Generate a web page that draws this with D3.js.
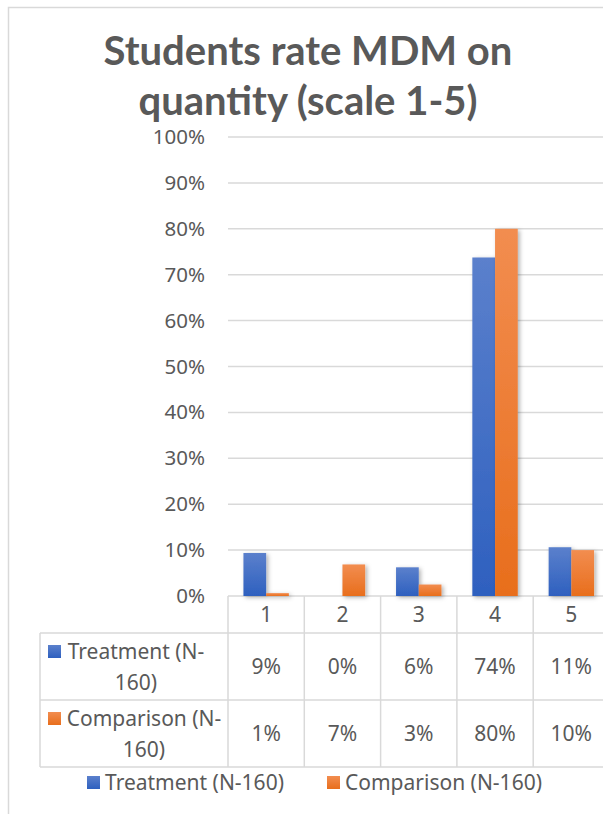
<!DOCTYPE html>
<html>
<head>
<meta charset="utf-8">
<script src="https://cdn.jsdelivr.net/npm/d3@7"></script>
<style>
  html, body { margin: 0; padding: 0; background: #fff; }
  svg { display: block; font-family: "Noto Sans", sans-serif; }
</style>
</head>
<body>
<svg id="chart" width="603" height="814"></svg>
<script>
// Share of students (N = 160 per group) choosing each rating
const categories = ["1", "2", "3", "4", "5"];
const seriesNames = ["Treatment (N-160)", "Comparison (N-160)"];
const tableLabels = [["Treatment (N-", "160)"], ["Comparison (N-", "160)"]];
const treatment = [9.375, 0, 6.25, 73.75, 10.625];
const comparison = [0.625, 6.875, 2.5, 80, 10];
const yTicks = [0, 10, 20, 30, 40, 50, 60, 70, 80, 90, 100];
const titleLines = ["Students rate MDM on", "quantity (scale 1-5)"];

const seriesValues = [treatment, comparison];
const textColor = "#595959";
const lineColor = "#d9d9d9";
const fontSize = 21;
const colors = [
  { top: "#5b80cc", bottom: "#2e60bf" },
  { top: "#f28d50", bottom: "#e86e1c" }
];

const svg = d3.select("#chart");
const defs = svg.append("defs");

colors.forEach((c, i) => {
  const g = defs.append("linearGradient")
    .attr("id", "grad" + i).attr("x1", 0).attr("y1", 0).attr("x2", 0).attr("y2", 1);
  g.append("stop").attr("offset", "0%").attr("stop-color", c.top);
  g.append("stop").attr("offset", "100%").attr("stop-color", c.bottom);
});
const shadow = defs.append("filter").attr("id", "shadow")
  .attr("x", "-30%").attr("y", "-10%").attr("width", "170%").attr("height", "130%");
shadow.append("feDropShadow").attr("dx", 2).attr("dy", 1.5)
  .attr("stdDeviation", 2).attr("flood-color", "#000").attr("flood-opacity", 0.3);

// Outer frame
svg.append("path")
  .attr("d", "M8.5,814 V7.5 H603")
  .attr("fill", "none").attr("stroke", lineColor).attr("stroke-width", 1.5);

// Title
svg.append("g").selectAll("text").data(titleLines).join("text")
  .attr("x", 308).attr("y", (d, i) => 65 + i * 50)
  .attr("text-anchor", "middle")
  .attr("font-family", "Lato, sans-serif")
  .attr("font-size", 40).attr("font-weight", 700)
  .attr("fill", textColor)
  .text(d => d);

// Scales
const left = 228, colW = 76.3;
const x = d3.scaleBand().domain(categories)
  .range([left, left + colW * categories.length]).paddingInner(0).paddingOuter(0);
const x1 = d3.scaleBand().domain(d3.range(seriesNames.length))
  .range([0, x.bandwidth()]).paddingInner(0).paddingOuter(0.68);
const y = d3.scaleLinear().domain([0, 100]).range([596, 137]);

// Gridlines
svg.append("g").selectAll("line").data(yTicks).join("line")
  .attr("x1", left).attr("x2", 603)
  .attr("y1", d => y(d)).attr("y2", d => y(d))
  .attr("stroke", lineColor).attr("stroke-width", 1.5);

// Y axis labels
const yAxis = svg.append("g").attr("transform", "translate(205,0)")
  .call(d3.axisLeft(y).tickValues(yTicks).tickSize(0).tickPadding(0).tickFormat(d => d + "%"));
yAxis.select(".domain").remove();
yAxis.selectAll("text")
  .attr("font-family", "'Noto Sans', sans-serif")
  .attr("font-size", 20.5).attr("fill", textColor);

// Bars
const groups = svg.append("g").selectAll("g").data(seriesValues).join("g")
  .attr("fill", (d, i) => `url(#grad${i})`)
  .attr("filter", "url(#shadow)");
groups.each(function (vals, si) {
  d3.select(this).selectAll("rect").data(vals.map((v, ci) => ({ v, c: categories[ci] })))
    .join("rect")
    .attr("x", d => x(d.c) + x1(si))
    .attr("width", x1.bandwidth())
    .attr("y", d => y(d.v))
    .attr("height", d => Math.max(0, y(0) - y(d.v)));
});

// Data table
const tableLeft = 40, headerBottom = 633, rowH = 67;
const table = svg.append("g");
const tableRight = 603;
[headerBottom, headerBottom + rowH, headerBottom + 2 * rowH].forEach(yy => {
  table.append("line").attr("x1", tableLeft).attr("x2", tableRight)
    .attr("y1", yy).attr("y2", yy).attr("stroke", lineColor).attr("stroke-width", 1.5);
});
table.append("line").attr("x1", tableLeft).attr("x2", tableLeft)
  .attr("y1", headerBottom).attr("y2", headerBottom + 2 * rowH)
  .attr("stroke", lineColor).attr("stroke-width", 1.5);
categories.forEach(c => {
  table.append("line").attr("x1", x(c)).attr("x2", x(c))
    .attr("y1", y(0)).attr("y2", headerBottom + 2 * rowH)
    .attr("stroke", lineColor).attr("stroke-width", 1.5);
});
table.selectAll("text.cat").data(categories).join("text").attr("class", "cat")
  .attr("x", d => x(d) + x.bandwidth() / 2).attr("y", 622)
  .attr("text-anchor", "middle").attr("font-size", fontSize).attr("fill", textColor)
  .text(d => d);
seriesValues.forEach((vals, si) => {
  const rowTop = headerBottom + si * rowH;
  const [l1, l2] = tableLabels[si];
  const textCenter = si === 0 ? 136 : 144;
  table.append("rect").attr("x", 48).attr("y", rowTop + 12)
    .attr("width", 13).attr("height", 13).attr("fill", `url(#grad${si})`);
  table.append("text").attr("x", textCenter).attr("y", rowTop + 26)
    .attr("text-anchor", "middle").attr("font-size", fontSize).attr("fill", textColor).text(l1);
  table.append("text").attr("x", textCenter).attr("y", rowTop + 57)
    .attr("text-anchor", "middle").attr("font-size", fontSize).attr("fill", textColor).text(l2);
  table.selectAll(null).data(vals).join("text")
    .attr("x", (d, ci) => x(categories[ci]) + x.bandwidth() / 2)
    .attr("y", rowTop + 41)
    .attr("text-anchor", "middle").attr("font-size", fontSize).attr("fill", textColor)
    .text(d => Math.round(d) + "%");
});

// Legend
const legend = svg.append("g");
const legendPos = [87, 327];
seriesNames.forEach((name, i) => {
  legend.append("rect").attr("x", legendPos[i]).attr("y", 776)
    .attr("width", 13).attr("height", 13).attr("fill", `url(#grad${i})`);
  legend.append("text").attr("x", legendPos[i] + 18).attr("y", 790)
    .attr("font-size", fontSize).attr("fill", textColor).text(name);
});
</script>
</body>
</html>
